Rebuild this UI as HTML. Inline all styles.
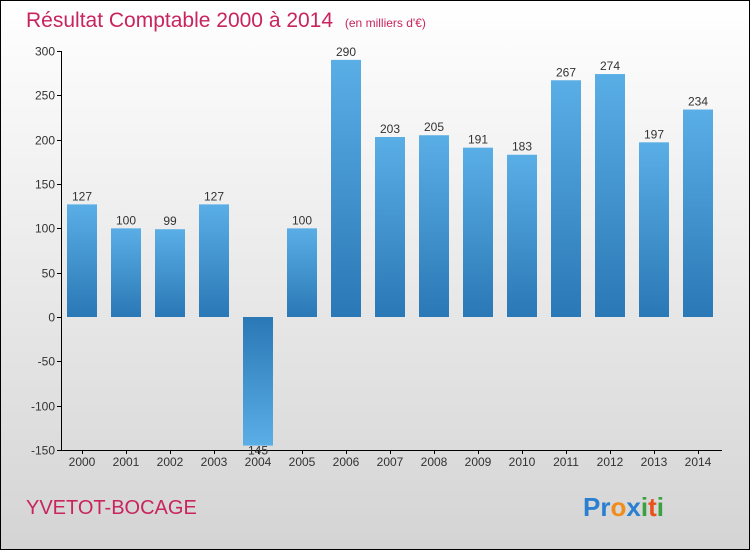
<!DOCTYPE html>
<html><head><meta charset="utf-8"><style>
html,body{margin:0;padding:0}
body{width:750px;height:550px;overflow:hidden;font-family:"Liberation Sans",sans-serif}
</style></head><body>
<svg id="chart" width="750" height="550" xmlns="http://www.w3.org/2000/svg">
<defs>
<linearGradient id="bg" x1="0" y1="0" x2="0" y2="1"><stop offset="0" stop-color="#ffffff"/><stop offset="1" stop-color="#d4d4d4"/></linearGradient>
<linearGradient id="barPos" x1="0" y1="0" x2="0" y2="1"><stop offset="0" stop-color="#5aaee6"/><stop offset="1" stop-color="#2a78b6"/></linearGradient>
<linearGradient id="barNeg" x1="0" y1="0" x2="0" y2="1"><stop offset="0" stop-color="#2a78b6"/><stop offset="1" stop-color="#5aaee6"/></linearGradient>
</defs>
<rect x="0.5" y="0.5" width="749" height="549" fill="url(#bg)" stroke="#000"/>
<text x="26" y="27" font-size="21" fill="#c8245e">Résultat Comptable 2000 à 2014 <tspan font-size="12" dx="6">(en milliers d'€)</tspan></text>
<text x="26" y="514" font-size="20" fill="#c8245e">YVETOT-BOCAGE</text>
<g font-size="26" font-weight="bold">
<text x="583" y="516"><tspan fill="#2a7fd0">Pr</tspan><tspan fill="#f08c1c">o</tspan><tspan fill="#2a7fd0">x</tspan><tspan fill="#3aa040">i</tspan><tspan fill="#e8501c">t</tspan><tspan fill="#3aa040">i</tspan></text>
</g>
<g id="axes"></g>
<g id="bars"></g>
</svg>
<script>
const categories=["2000","2001","2002","2003","2004","2005","2006","2007","2008","2009","2010","2011","2012","2013","2014"];
const values=[127,100,99,127,-145,100,290,203,205,191,183,267,274,197,234];
const yTicks=[300,250,200,150,100,50,0,-50,-100,-150];
const NS="http://www.w3.org/2000/svg";
const y0=317, unit=266/300, x0=82, step=44, bw=30;
const yS=v=>y0-v*unit;
const xS=i=>x0+i*step;
function mk(t,a,p){const e=document.createElementNS(NS,t);for(const k in a)e.setAttribute(k,a[k]);p.appendChild(e);return e;}
const ax=document.getElementById('axes'), bars=document.getElementById('bars');
const yl=mk('line',{x1:61.5,y1:yS(300),x2:61.5,y2:yS(-150),stroke:'#000'},ax);


const xl=mk('line',{x1:61,y1:yS(-150)+0.5,x2:722,y2:yS(-150)+0.5,stroke:'#000'},ax);


yTicks.forEach(v=>{
 const y=Math.round(yS(v))+0.5;
 mk('line',{x1:57,y1:y,x2:61,y2:y,stroke:'#000'},ax);
 const t=mk('text',{x:55,y:y+4,'text-anchor':'end','font-size':12,fill:'#333'},ax);
 t.textContent=v;
 
 
});
categories.forEach((c,i)=>{
 const x=xS(i), v=values[i];
 const top=v>=0?yS(v):y0, h=Math.abs(v)*unit;
 const r=mk('rect',{x:x-bw/2,y:top,width:bw,height:h,fill:v>=0?'url(#barPos)':'url(#barNeg)'},bars);
 
 
 const lab=mk('text',{x:x,y:v>=0?top-4:yS(v)+9,'text-anchor':'middle','font-size':12,fill:'#333'},bars);
 lab.textContent=v<0?-v:v;
 
 
 mk('line',{x1:x+0.5,y1:yS(-150),x2:x+0.5,y2:yS(-150)+4,stroke:'#000'},ax);
 const t=mk('text',{x:x,y:yS(-150)+16,'text-anchor':'middle','font-size':12,fill:'#333'},ax);
 t.textContent=c;
 
 
});
</script>
</body></html>
